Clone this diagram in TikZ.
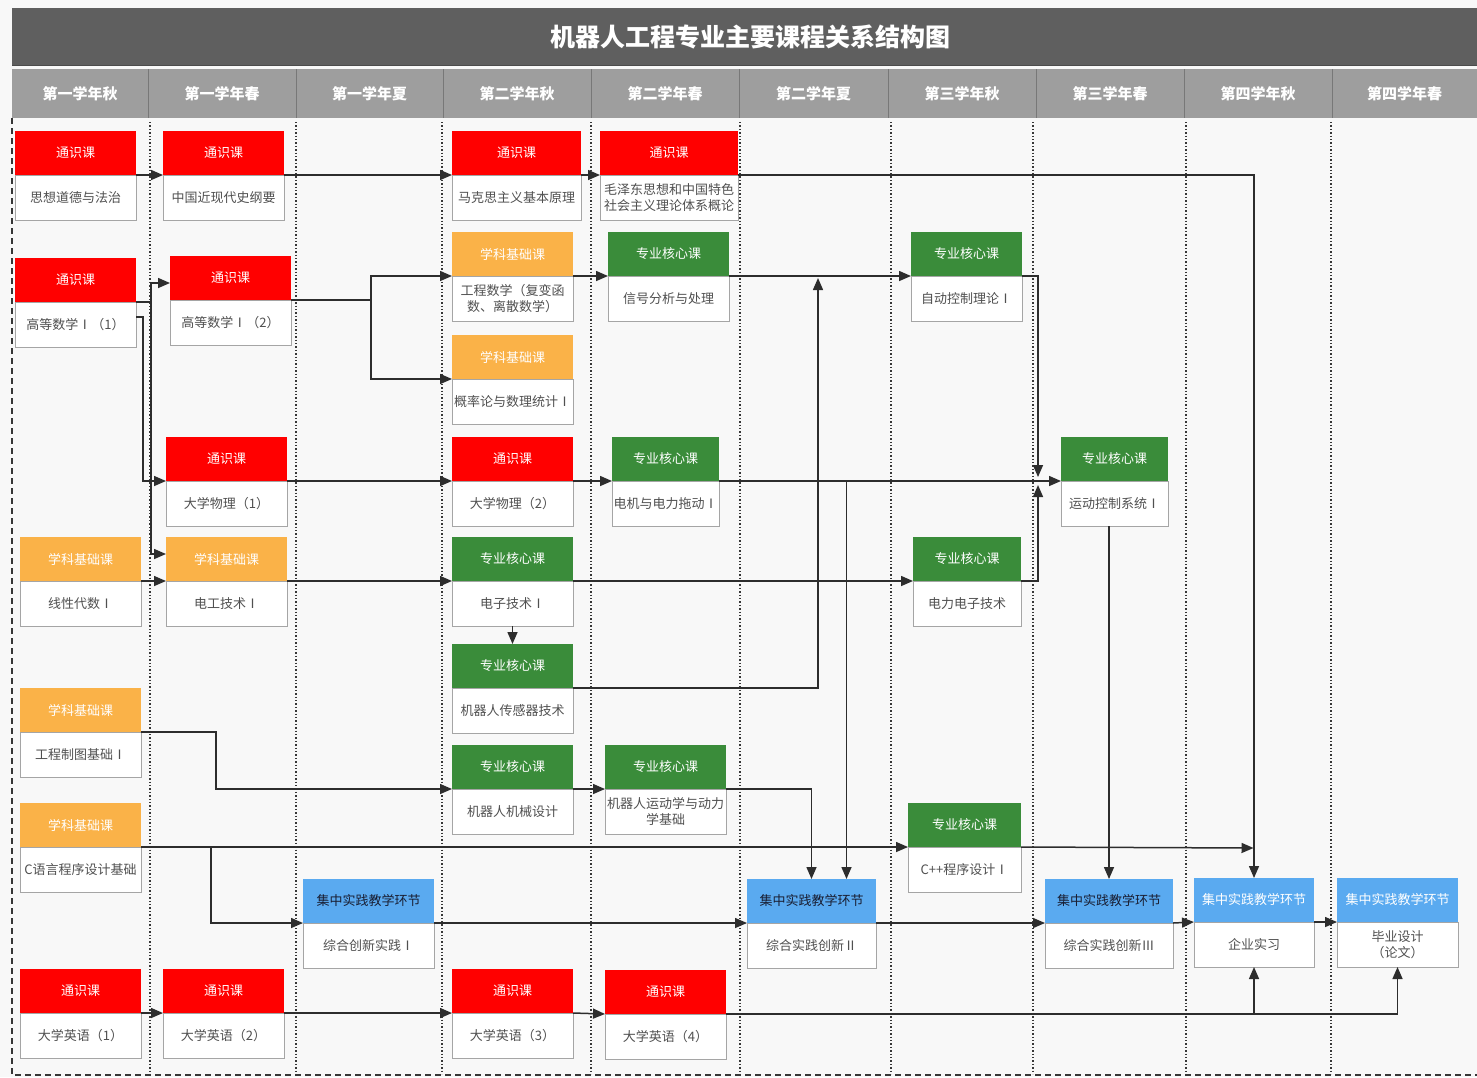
\documentclass[tikz,border=0pt]{standalone}
\usepackage{fontspec}
\setmainfont{Noto Sans CJK SC}
\usetikzlibrary{arrows.meta,calc}
\definecolor{bg}{RGB}{248,248,248}
\definecolor{titlebg}{RGB}{95,95,95}
\definecolor{headbg}{RGB}{158,158,158}
\definecolor{headsepc}{RGB}{120,120,120}
\definecolor{cred}{RGB}{255,0,0}
\definecolor{corange}{RGB}{250,178,72}
\definecolor{cgreen}{RGB}{58,140,58}
\definecolor{cblue}{RGB}{90,170,240}
\definecolor{bodytxt}{RGB}{80,80,80}
\definecolor{boxline}{RGB}{165,165,165}
\definecolor{conncol}{RGB}{45,45,45}
\definecolor{darktxt}{RGB}{25,30,50}
\definecolor{dotc}{RGB}{55,55,55}
\tikzset{
  hdrbox/.style={draw=none, minimum height=44pt, inner sep=0pt, outer sep=0pt,
    font=\fontsize{13}{15}\selectfont},
  bodybox/.style={draw=boxline, line width=0.8pt, fill=white, minimum height=45pt,
    inner sep=1pt, outer sep=0pt, align=center, text=bodytxt,
    font=\fontsize{13}{16}\selectfont},
  conn/.style={draw=conncol, line width=1.5pt, -{Triangle[length=12pt,width=10pt]}},
  dotline/.style={draw=dotc, line width=1.4pt, dash pattern=on 1.4pt off 2pt},
  border/.style={draw=dotc, line width=1.6pt, dash pattern=on 6pt off 4pt},
  headtxt/.style={text=white, font=\fontsize{15}{17}\selectfont\bfseries},
  headsep/.style={draw=headsepc, line width=1pt}
}
\newcommand\coursebox[8]{%
  \node[hdrbox, fill=#5, text=#6, minimum width={(#3-#2)*1pt}, anchor=north west] (#1h) at (#2,#4) {#7};
  \node[bodybox, minimum width={(#3-#2)*1pt}, anchor=north west] (#1) at (#2,#4+44) {#8};
}
\begin{document}
\begin{tikzpicture}[x=1pt,y=-1pt]
\useasboundingbox (0,0) rectangle (1477,1077);
\fill[bg] (0,0) rectangle (1477,1077);
% title and header bars
\fill[titlebg] (12,8) rectangle (1477,65);
\draw[draw=black!70, line width=1pt] (12,65) -- (1477,65);
\node[text=white, font=\fontsize{25}{28}\selectfont\bfseries] (title) at (750,37) {机器人工程专业主要课程关系结构图};
\fill[headbg] (12,69) rectangle (1477,118);
\foreach \x in {148,296,443,591,739,888,1036,1184,1332} {\draw[headsep] (\x,69) -- (\x,118);}
\node[headtxt] (hd1) at (80,94) {第一学年秋};
\node[headtxt] (hd2) at (222,94) {第一学年春};
\node[headtxt] (hd3) at (369.5,94) {第一学年夏};
\node[headtxt] (hd4) at (517,94) {第二学年秋};
\node[headtxt] (hd5) at (665,94) {第二学年春};
\node[headtxt] (hd6) at (813.5,94) {第二学年夏};
\node[headtxt] (hd7) at (962,94) {第三学年秋};
\node[headtxt] (hd8) at (1110,94) {第三学年春};
\node[headtxt] (hd9) at (1258,94) {第四学年秋};
\node[headtxt] (hd10) at (1404.5,94) {第四学年春};
% borders and column dividers
\draw[border] (12,118) -- (12,1075) -- (1477,1075);
\foreach \x in {150,296,442,591,740,891,1033,1186,1331} {\draw[dotline] (\x,122) -- (\x,1074);}
% courses
\coursebox{N1}{15}{136}{131}{cred}{white}{通识课}{思想道德与法治}
\coursebox{N2}{15}{136}{258}{cred}{white}{通识课}{高等数学Ⅰ（1）}
\coursebox{N3}{20}{141}{537}{corange}{white}{学科基础课}{线性代数Ⅰ}
\coursebox{N4}{20}{141}{688}{corange}{white}{学科基础课}{工程制图基础Ⅰ}
\coursebox{N5}{20}{141}{803}{corange}{white}{学科基础课}{C语言程序设计基础}
\coursebox{N6}{20}{141}{969}{cred}{white}{通识课}{大学英语（1）}
\coursebox{M1}{163}{284}{131}{cred}{white}{通识课}{中国近现代史纲要}
\coursebox{M2}{170}{291}{256}{cred}{white}{通识课}{高等数学Ⅰ（2）}
\coursebox{M3}{166}{287}{437}{cred}{white}{通识课}{大学物理（1）}
\coursebox{M4}{166}{287}{537}{corange}{white}{学科基础课}{电工技术Ⅰ}
\coursebox{M5}{163}{284}{969}{cred}{white}{通识课}{大学英语（2）}
\coursebox{P1}{303}{434}{879}{cblue}{darktxt}{集中实践教学环节}{综合创新实践Ⅰ}
\coursebox{Q1}{452}{581}{131}{cred}{white}{通识课}{马克思主义基本原理}
\coursebox{Q2}{452}{573}{232}{corange}{white}{学科基础课}{工程数学（复变函\\数、离散数学）}
\coursebox{Q3}{452}{573}{335}{corange}{white}{学科基础课}{概率论与数理统计Ⅰ}
\coursebox{Q4}{452}{573}{437}{cred}{white}{通识课}{大学物理（2）}
\coursebox{Q5}{452}{573}{537}{cgreen}{white}{专业核心课}{电子技术Ⅰ}
\coursebox{Q6}{452}{573}{644}{cgreen}{white}{专业核心课}{机器人传感器技术}
\coursebox{Q7}{452}{573}{745}{cgreen}{white}{专业核心课}{机器人机械设计}
\coursebox{Q8}{452}{573}{969}{cred}{white}{通识课}{大学英语（3）}
\coursebox{R1}{600}{738}{131}{cred}{white}{通识课}{毛泽东思想和中国特色\\社会主义理论体系概论}
\coursebox{R2}{608}{729}{232}{cgreen}{white}{专业核心课}{信号分析与处理}
\coursebox{R3}{612}{719}{437}{cgreen}{white}{专业核心课}{电机与电力拖动Ⅰ}
\coursebox{R4}{605}{726}{745}{cgreen}{white}{专业核心课}{机器人运动学与动力\\学基础}
\coursebox{R5}{605}{726}{970}{cred}{white}{通识课}{大学英语（4）}
\coursebox{S1}{747}{876}{879}{cblue}{darktxt}{集中实践教学环节}{综合实践创新Ⅱ}
\coursebox{T1}{911}{1022}{232}{cgreen}{white}{专业核心课}{自动控制理论Ⅰ}
\coursebox{T2}{913}{1021}{537}{cgreen}{white}{专业核心课}{电力电子技术}
\coursebox{T3}{908}{1021}{803}{cgreen}{white}{专业核心课}{C++程序设计Ⅰ}
\coursebox{U1}{1061}{1168}{437}{cgreen}{white}{专业核心课}{运动控制系统Ⅰ}
\coursebox{U2}{1045}{1173}{879}{cblue}{darktxt}{集中实践教学环节}{综合实践创新Ⅲ}
\coursebox{V1}{1194}{1314}{878}{cblue}{white}{集中实践教学环节}{企业实习}
\coursebox{W1}{1337}{1458}{878}{cblue}{white}{集中实践教学环节}{毕业设计\\（论文）}
% junction coordinates
\coordinate (j1) at (371,300);
\coordinate (j2) at (151,302);
\coordinate (jq6) at (818,278);
\coordinate (jd) at (1038,477);
\coordinate (ju) at (1038,485);
\coordinate (k1) at (1253.5,848);
% connectors
\draw[conn] (N1h.south east) -- (M1h.south west);
\draw[conn] (M1h.south east) -- (Q1h.south west);
\draw[conn] (Q1h.south east) -- (R1h.south west);
\draw[conn] (R1h.south east) -| (V1h.north);
\draw[conn] (N2h.south east) -- (j2) |- ([yshift=-5pt]M2h.west);
\draw[conn] (j2) |- ([yshift=5pt]M4h.west);
\draw[conn] ([yshift=-15pt]N2h.south east) -- ++(7,0) |- (M3h.south west);
\draw[conn] (N3h.south east) -- (M4h.south west);
\draw[conn] (M2h.south east) -- (j1) |- (Q2h.south west);
\draw[conn] (j1) |- (Q3h.south west);
\draw[conn] (M3h.south east) -- (Q4h.south west);
\draw[conn] (Q4h.south east) -- (R3h.south west);
\draw[conn] (R3h.south east) -- (U1h.south west);
\draw[conn] (R3h.south east) -| ([xshift=35pt]S1h.north);
\draw[conn] (R4h.south east) -| (S1h.north);
\draw[conn] (Q2h.south east) -- (R2h.south west);
\draw[conn] (R2h.south east) -- (T1h.south west);
\draw[conn] (Q6h.south east) -| (jq6);
\draw[conn] (T1h.south east) -| (jd);
\draw[conn] (T2h.south east) -| (ju);
\draw[conn] (M4h.south east) -- (Q5h.south west);
\draw[conn] (Q5h.south east) -- (T2h.south west);
\draw[conn] (Q5.south) -- (Q6h.north);
\draw[conn] (N4h.south east) -- ++(75,0) |- (Q7h.south west);
\draw[conn] (Q7h.south east) -- (R4h.south west);
\draw[conn] (N5h.south east) -- (T3h.south west);
\draw[conn] (N5h.south east) -- ++(70,0) |- (P1h.south west);
\draw[conn] (T3h.south east) -- (k1);
\draw[conn] (P1h.south east) -- (S1h.south west);
\draw[conn] (S1h.south east) -- (U2h.south west);
\draw[conn] (U2h.south east) -- (V1h.south west);
\draw[conn] (V1h.south east) -- (W1h.south west);
\draw[conn] (U1.south -| U2h.north) -- (U2h.north);
\draw[conn] (N6h.south east) -- (M5h.south west);
\draw[conn] (M5h.south east) -- (Q8h.south west);
\draw[conn] (Q8h.south east) -- (R5h.south west);
\draw[conn] (R5h.south east) -| (V1.south);
\draw[conn] (R5h.south east) -| (W1.south);
\end{tikzpicture}
\end{document}
